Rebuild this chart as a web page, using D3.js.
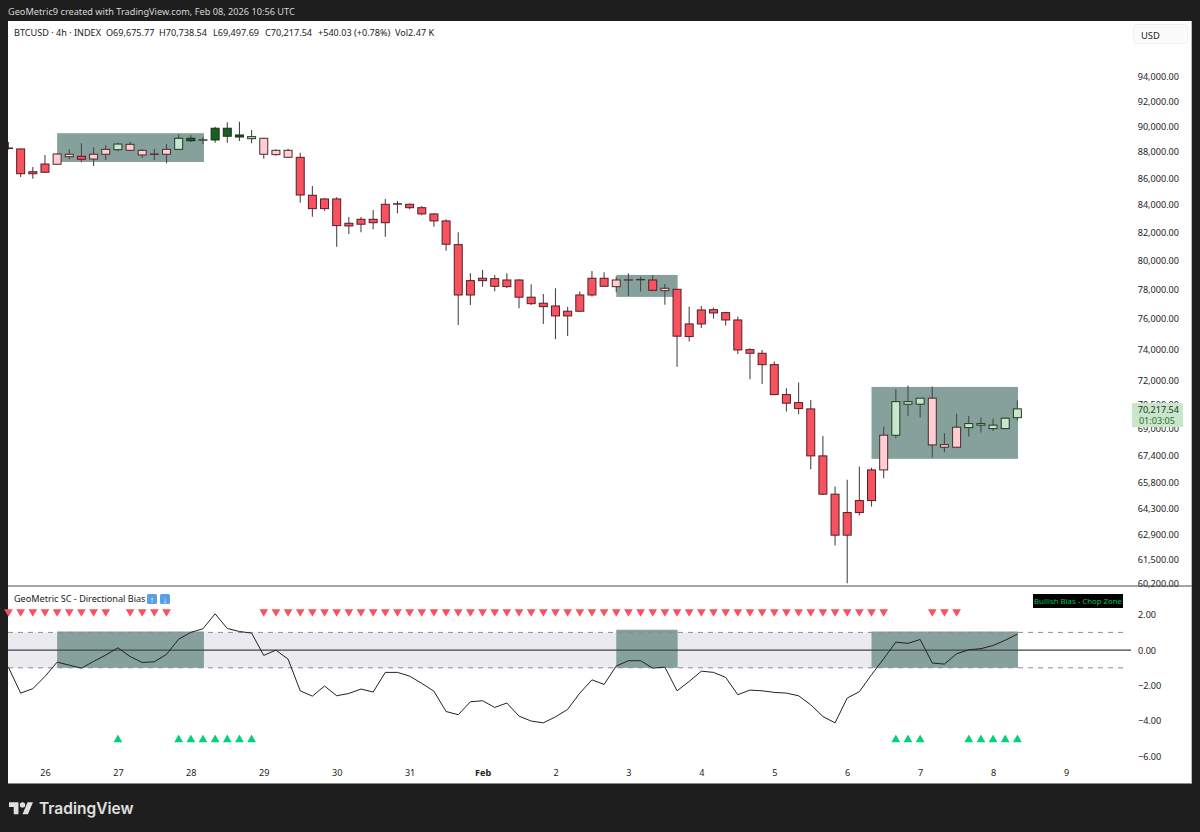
<!DOCTYPE html>
<html><head><meta charset="utf-8">
<script src="https://cdn.jsdelivr.net/npm/d3@7/dist/d3.min.js"></script>
<style>html,body{margin:0;padding:0;background:#1e1e1e}svg{display:block}text{font-family:"Noto Sans",sans-serif}</style>
</head><body><svg id="c" width="1200" height="832"></svg>
<script>
const opens=[88270,88240,86490,86450,87060,87640,87670,87460,87830,88180,88600,88135,87820,87830,88210,89070,88920,88940,89860,89330,89200,89070,87800,88135,87590,84720,83730,84445,82660,82590,82700,82700,84060,84050,83800,83340,82830,81120,77610,78595,78730,78180,78640,77460,77050,76865,76195,76510,77610,78760,78180,78630,78650,78640,77905,78000,74825,75660,76615,76415,75925,73970,73735,73000,71105,70605,70215,67375,65145,62840,64100,64780,66550,68610,70665,70505,70880,68045,67890,69070,69315,69220,69010,69675.77];
const highs=[88780,88250,86850,87770,87900,88210,88680,88370,88530,88725,88800,88210,88240,88620,89385,89330,89200,89985,90330,90380,89720,89120,88210,88260,87950,85410,84500,84570,83120,83120,83630,84445,84300,84100,83930,83390,82950,82010,79105,79340,78990,79105,78690,78350,77680,78070,76820,77840,79265,79175,78870,79105,78870,78990,78360,78020,76820,76865,76750,76460,76145,74060,73950,73195,71505,71860,70775,68570,65580,65970,66745,66685,69130,71460,71670,70880,71605,68730,69910,69785,69680,69620,69665,70738.54];
const lows=[88200,86090,85960,86400,87030,87440,87210,86930,87390,88060,88105,87565,87390,87135,88160,88780,88620,88725,88725,88860,88680,87490,87720,87580,84170,83140,83580,80980,81885,82010,82225,81690,83390,83685,83245,82415,80690,75595,76935,78180,77865,78090,76710,76935,75660,74650,74870,76500,77500,78180,77795,77540,77840,77885,76955,72870,74495,75395,76010,75550,73690,72070,71775,71070,70050,69890,66590,65105,62270,60245,63930,64440,66065,68430,69800,69680,67300,67595,67870,68530,68770,68870,68970,69497.69];
const closes=[88315,86340,86340,87080,87850,87830,87440,87830,88210,88620,88135,87775,87850,88210,89070,88880,88950,89860,89230,89170,89040,87830,88135,87595,84740,83730,84445,82490,82465,82950,82950,84050,84090,83800,83340,82830,81150,77610,78595,78760,78205,78640,77460,77020,76820,76195,76510,77610,78760,78205,78640,78655,78675,77930,78070,74850,75660,76595,76395,75925,73950,73735,73000,71105,70570,70235,67375,65145,62840,64100,64780,66550,68610,70665,70505,70880,68030,67890,69095,69315,69220,69010,69645,70217.54];
const barStates="rrrrpprppgppppgdgdddgppp"+"rrrrrrrrrrrrrrrrrrrrrrrrrr"+"pppr"+"p"+"rrrrrrrrrrrrrrrrr"+"pgggpppggggg";
const oscValues=[-0.98,-2.43,-2.18,-1.49,-0.68,-0.85,-1.02,-0.64,-0.28,0.13,-0.36,-0.70,-0.66,-0.24,0.62,1.00,1.21,2.05,1.22,1.05,0.96,-0.30,0.0,-0.51,-2.30,-2.60,-2.03,-2.58,-2.45,-2.20,-2.37,-1.26,-1.26,-1.47,-1.88,-2.32,-3.47,-3.65,-2.92,-2.86,-3.24,-2.99,-3.73,-4.01,-4.11,-3.77,-3.35,-2.43,-1.68,-1.94,-0.90,-0.60,-0.60,-1.02,-0.96,-2.30,-1.77,-1.19,-1.26,-1.54,-2.52,-2.26,-2.30,-2.39,-2.43,-2.58,-3.09,-3.75,-4.11,-2.71,-2.35,-1.39,-0.49,0.45,0.38,0.60,-0.73,-0.79,-0.21,0.02,0.08,0.26,0.56,0.90];
const bearMarkerRuns=[[0,8],[10,13],[21,72],[76,78]];
const bullMarkerRuns=[[9,9],[14,20],[73,75],[79,83]];
const bearMarkerLevel=2.17, bullMarkerLevel=-5.06;
const priceTicks=[94000,92000,90000,88000,86000,84000,82000,80000,78000,76000,74000,72000,70500,69000,67400,65800,64300,62900,61500,60200];
const oscTicks=[2,0,-2,-4,-6];
const dayTickBars=[3,9,15,21,27,33,39,45,51,57,63,69,75,81,87];
const dayTickLabels=["26","27","28","29","30","31","Feb","2","3","4","5","6","7","8","9"];
const priceBoxBars=[[4,16.08],[50,55.05],[71,83.05]];
const priceBoxTops=[89470,78990,71585];
const priceBoxBottoms=[87235,77480,67200];
const oscBoxBars=[[4,16.08],[50,55.05],[71,83.05]];
const oscBoxTops=[1.05,1.15,1.05];
const oscBoxBottoms=[-1,-1,-1];
const headerTexts=["BTCUSD · 4h · INDEX","O69,675.77","H70,738.54","L69,497.69","C70,217.54","+540.03 (+0.78%)","Vol2.47 K"];
const lastPriceText=["70,217.54","01:03:05"];

const svg=d3.select("#c");
const W=1200,H=832;
svg.append("rect").attr("width",W).attr("height",H).attr("fill","#1e1e1e");
svg.append("rect").attr("x",8).attr("y",21).attr("width",1183.7).attr("height",763).attr("fill","#fff");
const x=d3.scaleLinear().domain([0,87]).range([8.5,1066]);
const y=d3.scaleLog().domain([60200,94000]).range([584,77]);
const o=d3.scaleLinear().domain([-6,2]).range([756.3,614.7]);
const defs=svg.append("defs");
defs.append("clipPath").attr("id","cm").append("rect").attr("x",8).attr("y",21).attr("width",1125).attr("height",565);

svg.append("text").attr("x",8).attr("y",15).attr("font-size",9.2).attr("fill","#d6d6d6").text("GeoMetric9 created with TradingView.com, Feb 08, 2026 10:56 UTC");

const boxFill="#86a09b";
const main=svg.append("g").attr("clip-path","url(#cm)");
main.selectAll("rect.b").data(priceBoxBars).join("rect").attr("class","b")
 .attr("x",d=>x(d[0])).attr("width",d=>x(d[1])-x(d[0]))
 .attr("y",(d,i)=>y(priceBoxTops[i])).attr("height",(d,i)=>y(priceBoxBottoms[i])-y(priceBoxTops[i]))
 .attr("fill",boxFill);

const stateFill={r:"#f7525f",p:"#ffcdd2",g:"#c8e6c9",d:"#1b5e20"};
const stateLine={r:"#5a1c24",p:"#4a2c2e",g:"#1f3a24",d:"#10331a"};
const bars=d3.range(opens.length);
const bw=8;
main.selectAll("line.w").data(bars).join("line").attr("class","w")
 .attr("x1",i=>x(i)).attr("x2",i=>x(i)).attr("y1",i=>y(highs[i])).attr("y2",i=>y(lows[i]))
 .attr("stroke","#4a4a4a").attr("stroke-width",1.1);
main.selectAll("rect.c").data(bars).join("rect").attr("class","c")
 .attr("x",i=>x(i)-bw/2).attr("width",bw)
 .attr("y",i=>Math.min(y(opens[i]),y(closes[i])))
 .attr("height",i=>Math.abs(y(opens[i])-y(closes[i])))
 .attr("fill",i=>stateFill[barStates[i]])
 .attr("stroke",i=>stateLine[barStates[i]]).attr("stroke-width",1);

const headerX=[14,106,159,213,265,318,395];
svg.append("g").selectAll("text").data(headerTexts).join("text")
 .attr("x",(d,i)=>headerX[i]).attr("y",36).attr("font-size",9.1).attr("fill","#222").text(d=>d);

const axFmt=d3.format(",.2f");
const pa=svg.append("g").attr("transform","translate(1179,0)").call(d3.axisLeft(y).tickValues(priceTicks).tickFormat(axFmt).tickSize(0).tickPadding(0));
pa.select(".domain").remove();
pa.selectAll("text").attr("font-size",9.1).attr("fill","#222").attr("font-family",'"Noto Sans",sans-serif');

svg.append("rect").attr("x",1133.5).attr("y",24.5).attr("width",54).attr("height",19).attr("rx",3).attr("fill","#fbfbfb").attr("stroke","#f0f0f0");
svg.append("text").attr("x",1141).attr("y",38.5).attr("font-size",9.4).attr("fill","#222").text("USD");

svg.append("rect").attr("x",1132).attr("y",403).attr("width",51).attr("height",24).attr("fill","#c8e6c9");
svg.append("text").attr("x",1179).attr("y",412.5).attr("text-anchor","end").attr("font-size",9.1).attr("fill","#1c3a22").text(lastPriceText[0]);
svg.append("text").attr("x",1175).attr("y",424).attr("text-anchor","end").attr("font-size",9.1).attr("fill","#2e6b3a").text(lastPriceText[1]);

svg.append("line").attr("x1",8).attr("x2",1191.7).attr("y1",586).attr("y2",586).attr("stroke","#4a4a4a").attr("stroke-width",1.2);
svg.append("line").attr("x1",8).attr("x2",1191.7).attr("y1",783.5).attr("y2",783.5).attr("stroke","#8a8a8a").attr("stroke-width",1);
const pane=svg.append("g");
pane.append("rect").attr("x",8).attr("width",x(83.05)-8).attr("y",o(1)).attr("height",o(-1)-o(1)).attr("fill","#ebebef");
pane.selectAll("rect.ob").data(oscBoxBars).join("rect").attr("class","ob")
 .attr("x",d=>x(d[0])).attr("width",d=>x(d[1])-x(d[0]))
 .attr("y",(d,i)=>o(oscBoxTops[i])).attr("height",(d,i)=>o(oscBoxBottoms[i])-o(oscBoxTops[i]))
 .attr("fill",boxFill);
[1,-1].forEach(v=>pane.append("line").attr("x1",8).attr("x2",1127).attr("y1",o(v)).attr("y2",o(v)).attr("stroke","#8e8e8e").attr("stroke-dasharray","5,5"));
pane.append("line").attr("x1",8).attr("x2",1131).attr("y1",o(0)).attr("y2",o(0)).attr("stroke","#444").attr("stroke-width",1.1);
pane.append("path").datum(oscValues).attr("fill","none").attr("stroke","#222").attr("stroke-width",1)
 .attr("d",d3.line().x((d,i)=>x(i)).y(d=>o(d)));
const expand=r=>r.flatMap(a=>d3.range(a[0],a[1]+1));
const tri=d3.symbol().type(d3.symbolTriangle).size(33)();
pane.selectAll("path.dn").data(expand(bearMarkerRuns)).join("path").attr("class","dn").attr("d",tri)
 .attr("transform",i=>`translate(${x(i)},${o(bearMarkerLevel)}) rotate(180)`).attr("fill","#f7525f");
pane.selectAll("path.up").data(expand(bullMarkerRuns)).join("path").attr("class","up").attr("d",tri)
 .attr("transform",i=>`translate(${x(i)},${o(bullMarkerLevel)})`).attr("fill","#00d27a");

const oa=svg.append("g").attr("transform","translate(1138,0)").call(d3.axisRight(o).tickValues(oscTicks).tickFormat(d3.format(".2f")).tickSize(0).tickPadding(0));
oa.select(".domain").remove();
oa.selectAll("text").attr("font-size",9.1).attr("fill","#222").attr("font-family",'"Noto Sans",sans-serif').text(d=>d3.format(".2f")(d).replace("-","\u2212"));

svg.append("text").attr("x",14).attr("y",602).attr("font-size",9.1).attr("fill","#222").text("GeoMetric SC - Directional Bias");
[[147,"\u2191"],[160,"\u2193"]].forEach(a=>{
 svg.append("rect").attr("x",a[0]).attr("y",594).attr("width",10).attr("height",10).attr("rx",1.5).attr("fill","#5aa0e6");
 svg.append("text").attr("x",a[0]+5).attr("y",602.5).attr("text-anchor","middle").attr("font-size",9).attr("font-weight",700).attr("fill","#fff").text(a[1]);
});
svg.append("rect").attr("x",1033).attr("y",594).attr("width",90).attr("height",14).attr("fill","#000");
svg.append("text").attr("x",1078).attr("y",604).attr("text-anchor","middle").attr("font-size",7.8).attr("fill","#00c05a").text("Bullish Bias - Chop Zone");

const ta=svg.append("g").attr("transform","translate(0,770)").call(d3.axisBottom(x).tickValues(dayTickBars).tickFormat((d,i)=>dayTickLabels[i]).tickSize(0).tickPadding(0));
ta.select(".domain").remove();
ta.selectAll("text").attr("font-size",9.1).attr("fill","#222").attr("font-family",'"Noto Sans",sans-serif')
 .attr("font-weight",(d,i)=>dayTickLabels[i]==="Feb"?700:400);

const lg=svg.append("g").attr("transform","translate(9,799.5) scale(0.675)").attr("fill","#e0e0e0");
lg.append("path").attr("d","M14 22H7V11H0V4h14v18zM28 22h-8l7.5-18h8L28 22z");
lg.append("circle").attr("cx",20).attr("cy",8).attr("r",4);
svg.append("text").attr("x",39).attr("y",814).attr("font-size",15.5).attr("font-weight",600).attr("fill","#e0e0e0").style("font-family","Inter,sans-serif").text("TradingView");
</script></body></html>
